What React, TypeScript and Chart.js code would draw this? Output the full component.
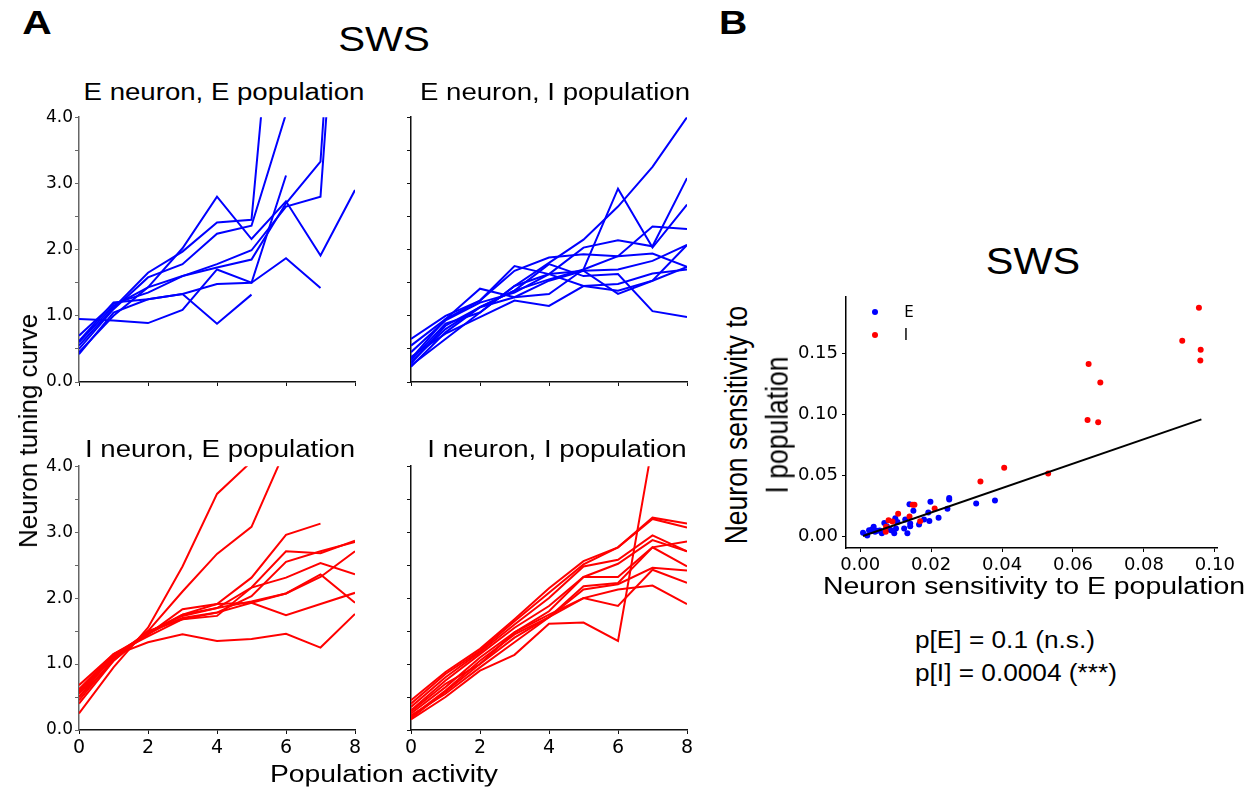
import React, { useEffect, useRef } from "react";
import { Chart, registerables } from "chart.js";

Chart.register(...registerables);

// ---------- data ----------
const X_ACTIVITY = [0, 1, 2, 3, 4, 5, 6, 7, 8];
const X_TICKS_ACTIVITY = [0, 2, 4, 6, 8];
const Y_TICKS_TUNING = [0, 0.5, 1, 1.5, 2, 2.5, 3, 3.5, 4];

type Curve = (number | null)[];

const EE_CURVES: Curve[] = [
  [0.95, 0.93, 0.89, 1.09, 1.7, 1.5, 1.87, 1.42, null],
  [0.62, 1.2, 1.25, 1.33, 0.88, 1.32, null, null, null],
  [0.45, 1.0, 1.43, 2.02, 2.8, 2.16, 2.73, 1.91, 2.9],
  [0.55, 1.12, 1.65, 1.97, 2.41, 2.45, 8.1, null, null],
  [0.5, 1.1, 1.58, 1.78, 2.24, 2.36, 4.05, null, null],
  [0.7, 1.18, 1.35, 1.6, 1.78, 1.99, 2.65, 2.8, 10.0],
  [0.6, 1.15, 1.43, 1.6, 1.73, 1.85, 2.7, 3.33, 11.0],
  [0.42, 1.05, 1.25, 1.33, 1.48, 1.5, 3.12, null, null],
];

const EI_CURVES: Curve[] = [
  [0.25, 0.65, 1.05, 1.45, 1.8, 2.15, 2.65, 3.25, 4.0],
  [0.35, 0.95, 1.41, 1.28, 1.33, 1.7, 2.92, 2.03, 2.68],
  [0.3, 0.8, 1.13, 1.38, 1.55, 1.7, 1.9, 2.35, 2.31],
  [0.55, 0.95, 1.23, 1.75, 1.63, 1.45, 1.38, 1.53, 2.07],
  [0.65, 1.0, 1.23, 1.68, 1.88, 1.93, 1.9, 1.94, 1.74],
  [0.23, 0.75, 1.13, 1.38, 1.78, 1.6, 1.63, 1.07, 0.98],
  [0.38, 0.73, 0.98, 1.23, 1.15, 1.45, 1.48, 1.64, 1.7],
  [0.28, 0.85, 1.13, 1.28, 1.53, 1.68, 1.7, 1.83, 2.07],
  [0.45, 0.93, 1.2, 1.35, 1.63, 2.03, 2.14, 2.05, 3.08],
  [0.33, 0.88, 1.05, 1.45, 1.63, 1.68, 1.33, 1.53, 1.74],
];

const IE_CURVES: Curve[] = [
  [0.25, 0.95, 1.55, 2.48, 3.58, 4.07, 4.6, null, null],
  [0.5, 1.05, 1.5, 2.1, 2.67, 3.08, 4.27, null, null],
  [0.68, 1.15, 1.45, 1.83, 1.91, 2.31, 2.96, 3.13, null],
  [0.6, 1.12, 1.48, 1.75, 1.85, 2.16, 2.71, 2.68, 2.87],
  [0.55, 1.1, 1.47, 1.7, 1.78, 2.03, 2.55, 2.71, 2.85],
  [0.45, 1.08, 1.5, 1.68, 1.73, 2.16, 2.31, 2.53, 2.36],
  [0.4, 1.05, 1.48, 1.73, 1.85, 1.95, 2.07, 2.36, 1.93],
  [0.62, 1.15, 1.42, 1.68, 1.78, 1.93, 2.07, 2.32, 2.71],
  [0.5, 1.13, 1.33, 1.45, 1.35, 1.38, 1.46, 1.25, 1.76],
  [0.58, 1.1, 1.45, 1.75, 1.91, 1.93, 1.74, 1.91, 2.08],
];

const II_CURVES: Curve[] = [
  [0.45, 0.88, 1.23, 1.68, 2.15, 2.56, 2.77, 3.22, 3.13],
  [0.4, 0.85, 1.2, 1.65, 2.08, 2.51, 2.77, 3.2, 3.07],
  [0.35, 0.8, 1.18, 1.6, 2.0, 2.48, 2.58, 2.95, 2.71],
  [0.3, 0.75, 1.15, 1.55, 1.88, 2.32, 2.52, 2.88, 2.71],
  [0.25, 0.65, 1.1, 1.48, 1.8, 2.32, 2.32, 2.77, 2.48],
  [0.2, 0.6, 1.05, 1.45, 1.71, 2.18, 2.23, 2.77, 2.86],
  [0.16, 0.5, 0.9, 1.14, 1.61, 1.63, 1.35, 4.33, null],
  [0.22, 0.55, 0.95, 1.33, 1.71, 2.13, 2.21, 2.46, 2.42],
  [0.28, 0.7, 1.0, 1.48, 1.75, 2.0, 1.88, 2.43, 2.23],
  [0.18, 0.58, 1.0, 1.4, 1.71, 2.0, 2.13, 2.19, 1.91],
];

const SENS_E_NEURON_X = [
  0.0008, 0.002, 0.0025, 0.003, 0.0033, 0.0038, 0.0042, 0.0047, 0.0055, 0.0061, 0.0068, 0.0075,
  0.0082, 0.0087, 0.0096, 0.0099, 0.0101, 0.0105, 0.0124, 0.0127, 0.0133, 0.0141, 0.0141, 0.0139,
  0.015, 0.0166, 0.018, 0.0192, 0.0195, 0.0198, 0.0221, 0.0246, 0.0251, 0.0251, 0.0327, 0.038,
];
const SENS_E_NEURON_Y = [
  0.0032, 0.001, 0.0053, 0.0045, 0.0059, 0.008, 0.004, 0.0048, 0.005, 0.0027, 0.0112, 0.0085,
  0.006, 0.0053, 0.0027, 0.015, 0.0067, 0.012, 0.0067, 0.0139, 0.0027, 0.0107, 0.0085, 0.0264,
  0.0211, 0.0099, 0.0139, 0.0197, 0.0128, 0.0286, 0.0155, 0.0227, 0.0315, 0.0304, 0.027, 0.0296,
];
const SENS_I_NEURON_X = [
  0.0955, 0.0908, 0.096, 0.0959, 0.0644, 0.0677, 0.0641, 0.0671, 0.0406, 0.0339, 0.053, 0.021,
  0.0148, 0.0153, 0.0107, 0.0139, 0.0169, 0.008, 0.0091, 0.0073, 0.0072,
];
const SENS_I_NEURON_Y = [
  0.187, 0.16, 0.1527, 0.144, 0.141, 0.126, 0.0953, 0.0934, 0.0563, 0.0451, 0.0515, 0.023, 0.026,
  0.026, 0.0187, 0.0165, 0.0125, 0.0133, 0.0123, 0.008, 0.004,
];
const FIT_X = [0.0008, 0.0962];
const FIT_Y = [0.0005, 0.0958];
const SENS_X_TICKS = [0, 0.02, 0.04, 0.06, 0.08, 0.1];
const SENS_Y_TICKS = [0, 0.05, 0.1, 0.15];

// ---------- components ----------
const BLUE = "#0000ff";
const RED = "#ff0000";

type Box = { L: number; R: number; T: number; B: number };

function LinePanel(props: {
  curves: Curve[];
  color: string;
  box: Box;
  xLabels: boolean;
  yLabels: boolean;
  yBorder: string;
}) {
  const { curves, color, box, xLabels, yLabels, yBorder } = props;
  const ref = useRef<HTMLCanvasElement | null>(null);
  const PL = 75, PT = 10, PR = 18, PB = 45;
  const W = box.R - box.L + PL + PR;
  const H = box.B - box.T + PT + PB;
  useEffect(() => {
    if (!ref.current) return;
    const datasets = curves.map((c) => ({
      data: c
        .map((v, i) => (v == null ? null : { x: X_ACTIVITY[i], y: v }))
        .filter((p) => p !== null) as { x: number; y: number }[],
      borderColor: color,
      borderWidth: 2,
      pointRadius: 0,
      fill: false,
      tension: 0,
    }));
    const chart = new Chart(ref.current, {
      type: "line",
      data: { datasets },
      options: {
        responsive: false,
        animation: false,
        layout: { padding: { left: 0, top: PT, right: PR, bottom: 0 } },
        plugins: { legend: { display: false }, tooltip: { enabled: false } },
        scales: {
          x: {
            type: "linear",
            min: 0,
            max: 8,
            afterBuildTicks: (s: any) => {
              s.ticks = X_TICKS_ACTIVITY.map((v) => ({ value: v }));
            },
            afterFit: (s: any) => {
              s.height = PB;
            },
            grid: { display: true, drawOnChartArea: false, drawTicks: true, tickLength: 4, color: "#111", lineWidth: 1 },
            border: { display: true, color: "#111", width: 1.5 },
            ticks: {
              autoSkip: false,
              maxRotation: 0,
              padding: 3,
              color: "#000",
              font: { family: '"DejaVu Sans"', size: 19 },
              callback: (v: any) => (xLabels ? String(v) : ""),
            },
          },
          y: {
            type: "linear",
            min: 0,
            max: 4,
            afterBuildTicks: (s: any) => {
              s.ticks = Y_TICKS_TUNING.map((v) => ({ value: v }));
            },
            afterFit: (s: any) => {
              s.width = PL;
            },
            grid: { display: true, drawOnChartArea: false, drawTicks: true, tickLength: 4, color: yBorder, lineWidth: 1 },
            border: { display: true, color: yBorder, width: 1.5 },
            ticks: {
              autoSkip: false,
              padding: 2,
              color: "#000",
              font: { family: '"DejaVu Sans"', size: 17 },
              callback: (v: any) => (yLabels && Number(v) % 1 === 0 ? Number(v).toFixed(1) : ""),
            },
          },
        },
      } as any,
    });
    return () => chart.destroy();
  }, []);
  return (
    <canvas
      ref={ref}
      width={W}
      height={H}
      style={{ position: "absolute", left: box.L - PL, top: box.T - PT, width: W, height: H }}
    />
  );
}

function ScatterPanel() {
  const ref = useRef<HTMLCanvasElement | null>(null);
  const box = { L: 846, R: 1217, T: 292, B: 548 };
  const PL = 80, PT = 10, PR = 32, PB = 42;
  const W = box.R - box.L + PL + PR;
  const H = box.B - box.T + PT + PB;
  useEffect(() => {
    if (!ref.current) return;
    const chart = new Chart(ref.current, {
      type: "scatter",
      data: {
        datasets: [
          {
            data: FIT_X.map((x, i) => ({ x, y: FIT_Y[i] })),
            showLine: true,
            borderColor: "#000",
            borderWidth: 2,
            pointRadius: 0,
          },
          {
            data: SENS_I_NEURON_X.map((x, i) => ({ x, y: SENS_I_NEURON_Y[i] })),
            backgroundColor: RED,
            borderWidth: 0,
            pointRadius: 3,
          },
          {
            data: SENS_E_NEURON_X.map((x, i) => ({ x, y: SENS_E_NEURON_Y[i] })),
            backgroundColor: BLUE,
            borderWidth: 0,
            pointRadius: 3,
          },
        ],
      },
      options: {
        responsive: false,
        animation: false,
        layout: { padding: { left: 0, top: PT, right: PR, bottom: 0 } },
        plugins: { legend: { display: false }, tooltip: { enabled: false } },
        scales: {
          x: {
            type: "linear",
            min: -0.004,
            max: 0.1006,
            afterBuildTicks: (s: any) => {
              s.ticks = SENS_X_TICKS.map((v) => ({ value: v }));
            },
            afterFit: (s: any) => {
              s.height = PB;
            },
            grid: { display: true, drawOnChartArea: false, drawTicks: true, tickLength: 4, color: "#000", lineWidth: 1 },
            border: { display: true, color: "#000", width: 1.5 },
            ticks: {
              autoSkip: false,
              maxRotation: 0,
              padding: 3,
              color: "#000",
              font: { family: '"DejaVu Sans"', size: 18 },
              callback: (v: any) => Number(v).toFixed(2),
            },
          },
          y: {
            type: "linear",
            min: -0.0093,
            max: 0.196,
            afterBuildTicks: (s: any) => {
              s.ticks = SENS_Y_TICKS.map((v) => ({ value: v }));
            },
            afterFit: (s: any) => {
              s.width = PL;
            },
            grid: { display: true, drawOnChartArea: false, drawTicks: true, tickLength: 4, color: "#000", lineWidth: 1 },
            border: { display: true, color: "#000", width: 1.5 },
            ticks: {
              autoSkip: false,
              padding: 4,
              color: "#000",
              font: { family: '"DejaVu Sans"', size: 18 },
              callback: (v: any) => Number(v).toFixed(2),
            },
          },
        },
      } as any,
    });
    return () => chart.destroy();
  }, []);
  return (
    <canvas
      ref={ref}
      width={W}
      height={H}
      style={{ position: "absolute", left: box.L - PL, top: box.T - PT, width: W, height: H }}
    />
  );
}

function Label(props: {
  text: string;
  x: number;
  y: number;
  size: number;
  sx?: number;
  rotate?: number;
  bold?: boolean;
  family?: string;
  anchor?: "center" | "left";
}) {
  const { text, x, y, size, sx = 1, rotate = 0, bold = false, anchor = "center" } = props;
  const family = props.family || '"Liberation Sans", Arial, sans-serif';
  const tx = anchor === "left" ? "0" : "-50%";
  return (
    <div
      style={{
        position: "absolute",
        left: x,
        top: y,
        transform: `translate(${tx}, -50%) scaleX(${sx}) rotate(${rotate}deg)`,
        transformOrigin: anchor === "left" ? "left center" : "center center",
        whiteSpace: "nowrap",
        lineHeight: 1,
        fontSize: size,
        fontFamily: family,
        fontWeight: bold ? 700 : 400,
        color: "#000",
      }}
    >
      {text}
    </div>
  );
}

function Dot(props: { x: number; y: number; color: string }) {
  return (
    <div
      style={{
        position: "absolute",
        left: props.x - 3,
        top: props.y - 3,
        width: 6,
        height: 6,
        borderRadius: 3,
        background: props.color,
      }}
    />
  );
}

export default function App() {
  return (
    <div
      style={{
        position: "fixed",
        left: 0,
        top: 0,
        width: 1254,
        height: 788,
        background: "#fff",
        overflow: "hidden",
      }}
    >
      <LinePanel curves={EE_CURVES} color={BLUE} box={{ L: 79, R: 355, T: 115, B: 382 }} xLabels={false} yLabels={true} yBorder="#666" />
      <LinePanel curves={EI_CURVES} color={BLUE} box={{ L: 411, R: 687, T: 115, B: 382 }} xLabels={false} yLabels={false} yBorder="#111" />
      <LinePanel curves={IE_CURVES} color={RED} box={{ L: 79, R: 355, T: 464, B: 730 }} xLabels={true} yLabels={true} yBorder="#666" />
      <LinePanel curves={II_CURVES} color={RED} box={{ L: 411, R: 687, T: 464, B: 730 }} xLabels={true} yLabels={false} yBorder="#111" />
      <ScatterPanel />

      <Label text="A" x={37} y={22} size={34} sx={1.2} bold />
      <Label text="B" x={733} y={22} size={34} sx={1.15} bold />
      <Label text="SWS" x={384} y={38} size={35} sx={1.15} />
      <Label text="E neuron, E population" x={224} y={92} size={23} sx={1.2} />
      <Label text="E neuron, I population" x={555} y={92} size={23} sx={1.2} />
      <Label text="I neuron, E population" x={220} y={449} size={23} sx={1.2} />
      <Label text="I neuron, I population" x={557} y={449} size={23} sx={1.2} />
      <Label text="Population activity" x={384} y={774} size={23} sx={1.23} />
      <Label text="Neuron tuning curve" x={28} y={431} size={26} rotate={-90} />

      <Label text="SWS" x={1033} y={262} size={36} sx={1.15} />
      <Label text="Neuron sensitivity to" x={737} y={425} size={26.5} sx={1.2} rotate={-90} />
      <Label text="I population" x={777} y={425} size={26.5} sx={1.2} rotate={-90} />
      <Label text="Neuron sensitivity to E population" x={1034} y={587} size={23.5} sx={1.21} />
      <Label text="p[E] = 0.1 (n.s.)" x={915} y={640} size={23} sx={1.14} anchor="left" />
      <Label text="p[I] = 0.0004 (***)" x={915} y={673} size={23} sx={1.14} anchor="left" />

      <Dot x={875} y={312} color={BLUE} />
      <Dot x={875} y={335} color={RED} />
      <Label text="E" x={909} y={312} size={15} family='"DejaVu Sans"' />
      <Label text="I" x={906} y={335} size={15} family='"DejaVu Sans"' />
    </div>
  );
}
